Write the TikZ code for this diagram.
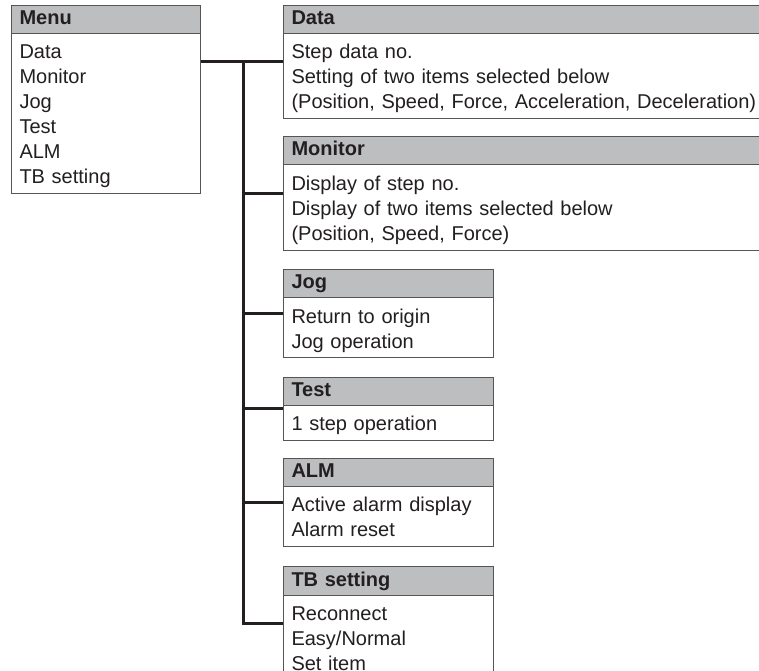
\documentclass[tikz,border=0pt]{standalone}
\usepackage{fontspec}
\setmainfont{Liberation Sans}
\usetikzlibrary{shapes.multipart}
\definecolor{hdrgray}{RGB}{189,190,192}
\definecolor{edgegray}{RGB}{85,85,85}
\definecolor{ink}{RGB}{35,31,32}
\newcommand{\hstrut}{\rule[-2pt]{0pt}{8pt}}
\newcommand{\topstrut}{\rule{0pt}{10.25pt}}
\newcommand{\botstrut}{\rule[-2.25pt]{0pt}{0pt}}
\begin{document}
\begin{tikzpicture}[x=0.5pt,y=-0.5pt,
  box/.style={rectangle split, rectangle split parts=2, draw=edgegray, line width=0.5pt,
    rectangle split part fill={hdrgray,white}, text width=#1, align=left,
    inner xsep=4pt, inner ysep=2.25pt, anchor=north west, text=ink,
    font=\fontsize{10}{12.5}\selectfont},
  conn/.style={ink, line width=1.5pt}]
\useasboundingbox (0,0) rectangle (759,670);
\clip (0,0) rectangle (759,670);
\node[box=86.5pt] (menu) at (11,5) {\textbf{Menu}\hstrut
  \nodepart{two}\topstrut Data\\Monitor\\Jog\\Test\\ALM\\TB setting\botstrut};
\node[box=242pt] (data) at (283,5) {\textbf{Data}\hstrut
  \nodepart{two}\topstrut Step data no.\\Setting of two items selected below\\
  (Position, Speed, Force, Acceleration, Deceleration)\botstrut};
\node[box=242pt] (monitor) at (283,136) {\textbf{Monitor}\hstrut
  \nodepart{two}\topstrut Display of step no.\\Display of two items selected below\\
  (Position, Speed, Force)\botstrut};
\node[box=97pt] (jog) at (283,269) {\textbf{Jog}\hstrut
  \nodepart{two}\topstrut Return to origin\\Jog operation\botstrut};
\node[box=97pt] (test) at (283,377) {\textbf{Test}\hstrut
  \nodepart{two}\topstrut 1 step operation\botstrut};
\node[box=97pt] (alm) at (283,458) {\textbf{ALM}\hstrut
  \nodepart{two}\topstrut Active alarm display\\Alarm reset\botstrut};
\node[box=97pt] (tbset) at (283,566) {\textbf{TB setting}\hstrut
  \nodepart{two}\topstrut Reconnect\\Easy/Normal\\Set item\botstrut};
% tree lines
\coordinate (trunk) at (243,0);
\draw[conn] (menu.east |- data.west) -- (data.west);
\draw[conn] (trunk |- data.west) -- (trunk |- tbset.west) -- (tbset.west);
\foreach \n in {monitor,jog,test,alm} \draw[conn] (trunk |- \n.west) -- (\n.west);
\end{tikzpicture}
\end{document}
